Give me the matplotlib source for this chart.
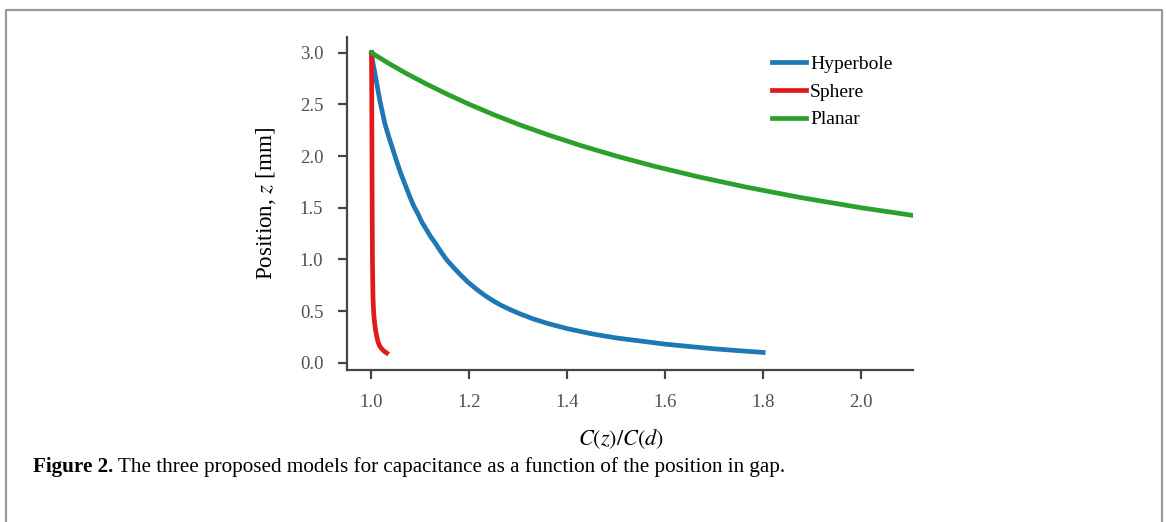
import matplotlib.pyplot as plt
from matplotlib.lines import Line2D

# values: C(z)/C(d) vs position z [mm]
hyperbole_c = [1.0, 1.003, 1.007, 1.012, 1.017, 1.022, 1.027, 1.035, 1.044, 1.052, 1.06,
               1.069, 1.078, 1.086, 1.095, 1.103, 1.112, 1.121, 1.13, 1.141, 1.153,
               1.166, 1.18, 1.197, 1.215, 1.232, 1.25, 1.266, 1.283, 1.305, 1.33,
               1.36, 1.4, 1.45, 1.5, 1.55, 1.6, 1.65, 1.7, 1.75, 1.8]
hyperbole_z = [3.0, 2.9, 2.8, 2.67, 2.54, 2.43, 2.32, 2.19, 2.06, 1.94, 1.83,
               1.72, 1.61, 1.52, 1.44, 1.36, 1.29, 1.22, 1.16, 1.08, 1.0,
               0.93, 0.86, 0.78, 0.71, 0.65, 0.595, 0.553, 0.515, 0.47, 0.425,
               0.38, 0.33, 0.28, 0.24, 0.21, 0.18, 0.157, 0.135, 0.117, 0.10]

sphere_c = [1.0, 1.0006, 1.001, 1.0014, 1.002, 1.0025, 1.003, 1.0038, 1.005, 1.0065,
            1.0085, 1.011, 1.0135, 1.0165, 1.02, 1.025, 1.031]
sphere_z = [3.0, 2.5, 2.0, 1.5, 1.0, 0.8, 0.65, 0.55, 0.45, 0.38,
            0.31, 0.25, 0.2, 0.165, 0.14, 0.115, 0.095]

planar_c = [1.0, 1.034, 1.071, 1.111, 1.154, 1.2, 1.25, 1.304, 1.364, 1.429, 1.5,
            1.579, 1.667, 1.765, 1.875, 2.0, 2.143]
planar_z = [3.0, 2.9, 2.8, 2.7, 2.6, 2.5, 2.4, 2.3, 2.2, 2.1, 2.0,
            1.9, 1.8, 1.7, 1.6, 1.5, 1.4]

caption_bold = 'Figure 2.'
caption_text = ' The three proposed models for capacitance as a function of the position in gap.'

plt.rcParams['font.family'] = ['Liberation Serif', 'DejaVu Serif']
plt.rcParams['mathtext.fontset'] = 'stix'

W, H = 1166, 522
fig = plt.figure(figsize=(W / 100, H / 100), dpi=100)
ax = fig.add_axes([347 / W, 1 - 370 / H, (913 - 347) / W, (370 - 36.7) / H])

ax.plot(hyperbole_c, hyperbole_z, color='#1f77b4', lw=3.4, label='Hyperbole')
ax.plot(sphere_c, sphere_z, color='#e31a1c', lw=3.4, label='Sphere')
ax.plot(planar_c, planar_z, color='#2ca02c', lw=3.4, label='Planar')

ax.set_xlim(0.95, 2.106)
ax.set_ylim(-0.07, 3.155)
ax.set_xticks([1.0, 1.2, 1.4, 1.6, 1.8, 2.0])
ax.set_yticks([0.0, 0.5, 1.0, 1.5, 2.0, 2.5, 3.0])

gray = '#454545'
for s in ['top', 'right']:
    ax.spines[s].set_visible(False)
for s in ['left', 'bottom']:
    ax.spines[s].set_color(gray)
    ax.spines[s].set_linewidth(1.6)
ax.tick_params(direction='out', length=6.5, width=1.6, color=gray, labelcolor='#505050',
               pad=10.5, labelsize=13.5)

ax.set_xlabel(r'$C(z)/C(d)$', fontsize=16, va='center')
ax.xaxis.set_label_coords((621 - 347) / 566, (370 - 439) / 333.3)
ax.set_ylabel(r'Position, $z$ [mm]', fontsize=16.6, va='center')
ax.yaxis.set_label_coords((266 - 347) / 566, 0.5)

ax.legend(loc='upper left', bbox_to_anchor=(772 / W, 1 - 55 / H), bbox_transform=fig.transFigure,
          frameon=False, fontsize=14, handlelength=1.75, handletextpad=0.2,
          borderpad=0, borderaxespad=0, labelspacing=0.53)

# caption under the plot
t1 = fig.text(33 / W, 1 - 467 / H, caption_bold, weight='bold', fontsize=15.2, va='center')
ax.annotate(caption_text, xy=(1, 0), xycoords=t1, va='bottom', fontsize=15.2, annotation_clip=False)

# open frame around figure
fig.add_artist(Line2D([6 / W, 6 / W, 1162 / W, 1162 / W], [0, 1 - 10 / H, 1 - 10 / H, 0],
                      transform=fig.transFigure, color='#999999', lw=1.6))

fig.savefig('out.png', dpi=100)
